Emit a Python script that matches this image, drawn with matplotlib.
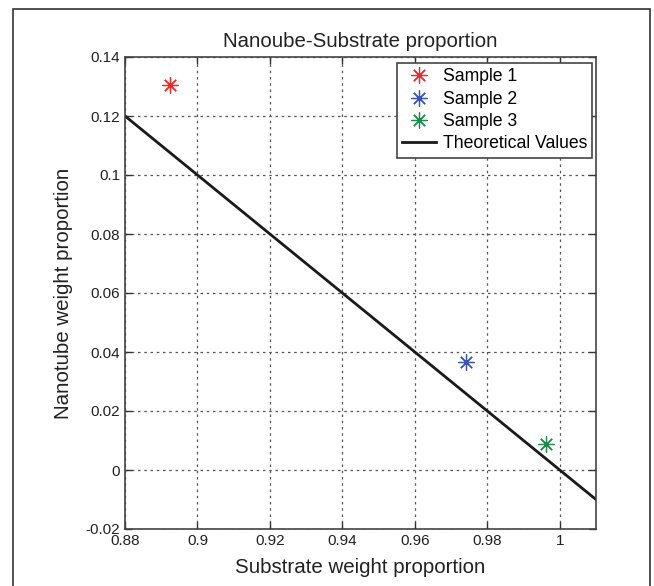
import matplotlib.pyplot as plt
from matplotlib.patches import Rectangle

plt.rcParams['font.family'] = ['Liberation Sans', 'DejaVu Sans']

# dane
probki = ["Sample 1", "Sample 2", "Sample 3"]
podloze = [0.8925, 0.9740, 0.9963]
nanorurki = [0.1305, 0.0367, 0.0088]
kolory = ["#ee2b2b", "#3a56b8", "#1d8c48"]

teoria_x = [0.88, 1.01]
teoria_y = [0.12, -0.01]

x_ticks = [0.88, 0.9, 0.92, 0.94, 0.96, 0.98, 1]
x_labels = ["0.88", "0.9", "0.92", "0.94", "0.96", "0.98", "1"]
y_ticks = [-0.02, 0, 0.02, 0.04, 0.06, 0.08, 0.1, 0.12, 0.14]
y_labels = ["-0.02", "0", "0.02", "0.04", "0.06", "0.08", "0.1", "0.12", "0.14"]

fig = plt.figure(figsize=(6.54, 5.86), dpi=100)
ax = fig.add_axes([125/654, 1-529/586, (596-125)/654, (529-57)/586])

# ramka dookola calej figury
fig.patches.append(Rectangle((13/654, -0.05), (650-13)/654, 1.05-9/586,
                             transform=fig.transFigure, fill=False,
                             edgecolor="#333333", linewidth=1.2))

for i in range(len(probki)):
    ax.plot(podloze[i], nanorurki[i], linestyle='none', marker=(8, 2, 0),
            markersize=11.5, markeredgewidth=0.9, color=kolory[i], label=probki[i])

ax.plot(teoria_x, teoria_y, color="#1a1a1a", linewidth=2, label="Theoretical Values")

ax.set_xlim(0.88, 1.01)
ax.set_ylim(-0.02, 0.14)
ax.set_xticks(x_ticks)
ax.set_xticklabels(x_labels)
ax.set_yticks(y_ticks)
ax.set_yticklabels(y_labels)
ax.tick_params(direction='in', top=True, right=True, labelsize=11,
               length=5, width=1, colors="#333333", labelcolor="#222222")
for s in ax.spines.values():
    s.set_color("#444444")
    s.set_linewidth(1.2)
ax.grid(True, linestyle=(0, (2, 3)), color="#555555", linewidth=0.9)

ax.set_title("Nanoube-Substrate proportion", fontsize=14.7, color="#222222", pad=7)
ax.set_xlabel("Substrate weight proportion", fontsize=14.8, color="#222222", labelpad=7)
ax.set_ylabel("Nanotube weight proportion", fontsize=14.8, color="#222222", labelpad=9)

leg = ax.legend(loc='upper right', bbox_to_anchor=(0.992, 0.987), fontsize=12.7,
                fancybox=False, framealpha=1, edgecolor="#444444",
                borderpad=0.3, labelspacing=0.3, handlelength=1.95,
                handletextpad=0.35, borderaxespad=0.0)
leg.get_frame().set_linewidth(1.2)

plt.savefig("out.png", dpi=100)
